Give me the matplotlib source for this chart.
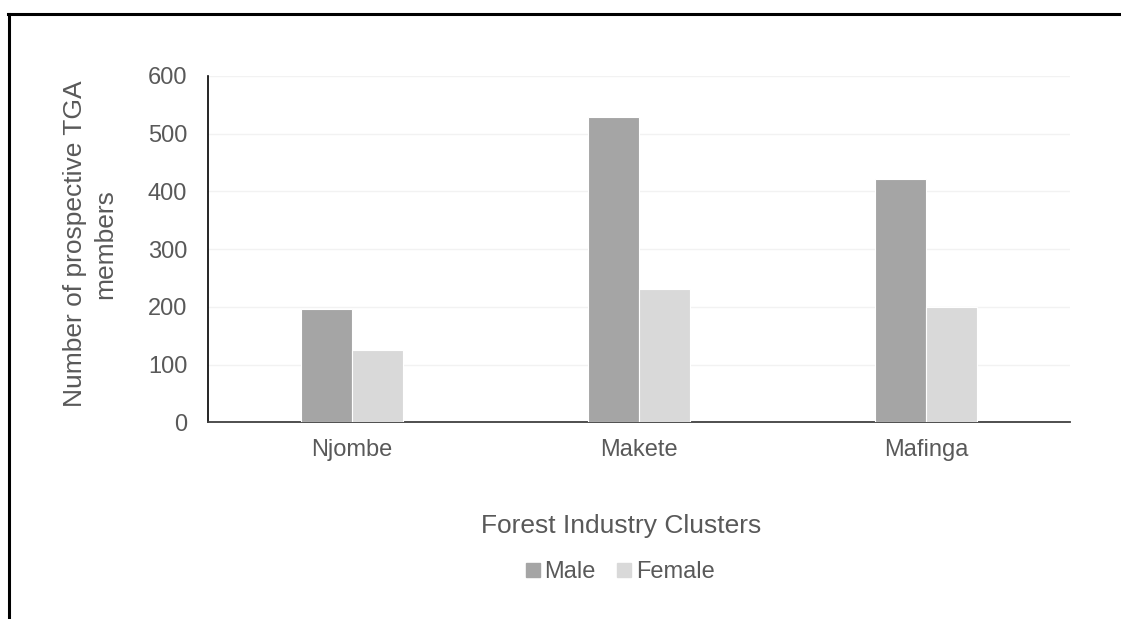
import numpy as np
import matplotlib.pyplot as plt
from matplotlib.lines import Line2D

plt.rcParams['font.family'] = ['Liberation Sans', 'DejaVu Sans']

# values
clusters = ["Njombe", "Makete", "Mafinga"]
male = [197, 529, 421]
female = [126, 231, 199]

W, H = 1121, 619
fig = plt.figure(figsize=(W / 100, H / 100), dpi=100)
ax = fig.add_axes([208 / W, 1 - 422.3 / H, 862 / W, (422.3 - 76) / H])

x = np.arange(len(clusters))
w = 0.178
ax.bar(x - w / 2, male, w, color="#a5a5a5", edgecolor="white", linewidth=0.8, label="Male", zorder=3)
ax.bar(x + w / 2, female, w, color="#d9d9d9", edgecolor="white", linewidth=0.8, label="Female", zorder=3)

ax.set_xlim(-0.5, 2.5)
ax.set_ylim(0, 600)
ax.set_yticks(range(0, 601, 100))
ax.set_xticks(x)
ax.set_xticklabels(clusters)
ax.grid(axis="y", color="#f2f2f2", linewidth=1, zorder=0)
for s in ["top", "right"]:
    ax.spines[s].set_visible(False)
ax.spines["left"].set_color("black")
ax.spines["left"].set_linewidth(1.2)
ax.spines["bottom"].set_color("#404040")
ax.spines["bottom"].set_linewidth(1.3)
ax.tick_params(axis="both", length=0, labelsize=17, colors="#595959")
ax.tick_params(axis="y", pad=15)
ax.tick_params(axis="x", pad=12)

fig.text(90 / W, 1 - 244 / H, "Number of prospective TGA\nmembers", rotation=90,
         ha="center", va="center", fontsize=19, color="#595959", linespacing=1.3)
fig.text(621 / W, 1 - 533 / H, "Forest Industry Clusters", ha="center", va="baseline",
         fontsize=19, color="#595959")

handles = [Line2D([], [], marker="s", linestyle="none", markersize=10, color="#a5a5a5"),
           Line2D([], [], marker="s", linestyle="none", markersize=10, color="#d9d9d9")]
leg = fig.legend(handles, ["Male", "Female"], loc="center", bbox_to_anchor=(620 / W, 1 - 572 / H),
                 ncol=2, frameon=False, fontsize=17, handlelength=0.6, handletextpad=0.2,
                 columnspacing=0.9, borderpad=0, borderaxespad=0)
for t in leg.get_texts():
    t.set_color("#595959")

# border lines of the original figure frame (top and left)
fig.add_artist(Line2D([8 / W, 1], [1 - 14 / H, 1 - 14 / H], color="black", linewidth=2.2))
fig.add_artist(Line2D([8.5 / W, 8.5 / W], [0, 1 - 14 / H], color="black", linewidth=2.2))

fig.savefig("out.png", dpi=100)
